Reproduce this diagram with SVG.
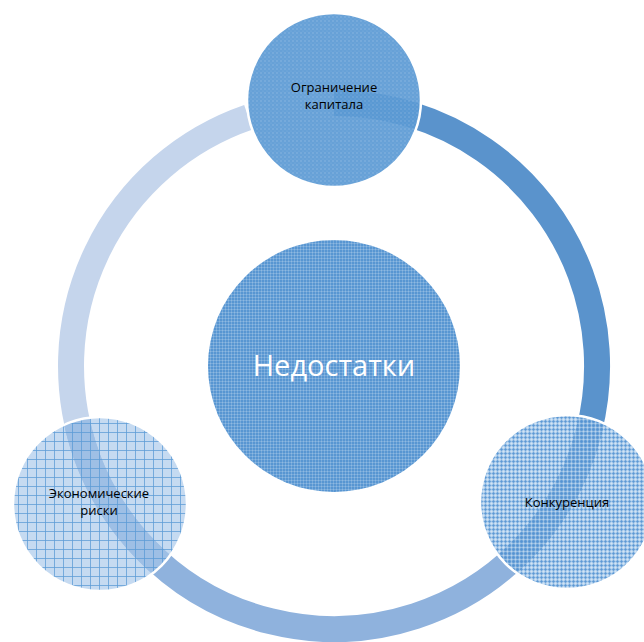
<svg xmlns="http://www.w3.org/2000/svg" width="644" height="642" viewBox="0 0 644 642">
  <defs>
    <pattern id="patCenter" width="3" height="3" patternUnits="userSpaceOnUse">
      <rect width="3" height="3" fill="#5896d2"/>
      <path d="M0 0.5H3M0.5 0V3" stroke="#ffffff" stroke-opacity="0.18" stroke-width="1"/>
    </pattern>
    <pattern id="patTop" width="4" height="4" patternUnits="userSpaceOnUse">
      <rect width="4" height="4" fill="#5a99d4" fill-opacity="0.92"/>
      <circle cx="1" cy="1" r="0.8" fill="#ffffff" fill-opacity="0.22"/>
      <circle cx="3" cy="3" r="0.6" fill="#ffffff" fill-opacity="0.15"/>
    </pattern>
    <pattern id="patRight" width="4" height="4" patternUnits="userSpaceOnUse">
      <rect width="4" height="4" fill="#7fb1e2" fill-opacity="0.7"/>
      <path d="M0 1.5H4M1.5 0V4" stroke="#4f8fd0" stroke-opacity="0.6" stroke-width="1"/>
      <path d="M0 3.5H4M3.5 0V4" stroke="#ffffff" stroke-opacity="0.3" stroke-width="1"/>
    </pattern>
    <pattern id="patLeft" width="9" height="9" patternUnits="userSpaceOnUse">
      <rect width="9" height="9" fill="#a6c6ea" fill-opacity="0.65"/>
      <path d="M0 0.5H9M0.5 0V9" stroke="#5b9bd5" stroke-opacity="0.75" stroke-width="1"/>
    </pattern>
    <clipPath id="clipLeft"><circle cx="100" cy="504" r="87"/></clipPath>
    <clipPath id="clipRight"><circle cx="567" cy="502" r="87"/></clipPath>
    <style>
      .arc { fill: none; stroke-width: 26; stroke-linecap: butt; }
      .dark { stroke: #5a93cc; }
      .med { stroke: #8fb2dd; }
      .light { stroke: #c5d5ec; }
      .node { stroke: #ffffff; stroke-width: 2.5; }
      .lbl { font-family: "Open Sans", "Liberation Sans", sans-serif; font-size: 13px; fill: #000000; text-anchor: middle; }
      .main { font-family: "Open Sans", "Liberation Sans", sans-serif; font-size: 29px; fill: #ffffff; text-anchor: middle; }
    </style>
  </defs>
  <rect width="644" height="642" fill="#ffffff"/>
  <g id="connectors">
    <path class="arc light" d="M 86.9 456 A 263 263 0 0 1 248.4 117.3"/>
    <path class="arc med" d="M 535.5 535 A 263 263 0 0 1 76.7 420.7"/>
    <path class="arc med" clip-path="url(#clipLeft)" d="M 506.6 564.5 A 263 263 0 0 1 71 366"/>
    <path class="arc dark" d="M 334 103 A 263 263 0 0 1 506.6 564.5"/>
    <path class="arc dark" clip-path="url(#clipRight)" d="M 561.8 234.5 A 263 263 0 0 1 466 594"/>
  </g>
  <g id="node-center">
    <circle cx="334" cy="366" r="126" fill="url(#patCenter)"/>
    <text class="main" x="334" y="376">Недостатки</text>
  </g>
  <g id="node-top">
    <circle class="node" cx="334" cy="100" r="87" fill="url(#patTop)"/>
    <text class="lbl" x="334" y="92">Ограничение</text>
    <text class="lbl" x="334" y="109">капитала</text>
  </g>
  <g id="node-right">
    <circle class="node" cx="567" cy="502" r="87" fill="url(#patRight)"/>
    <text class="lbl" x="567" y="507">Конкуренция</text>
  </g>
  <g id="node-left">
    <circle class="node" cx="100" cy="504" r="87" fill="url(#patLeft)"/>
    <text class="lbl" x="99" y="498">Экономические</text>
    <text class="lbl" x="99" y="515">риски</text>
  </g>
</svg>
